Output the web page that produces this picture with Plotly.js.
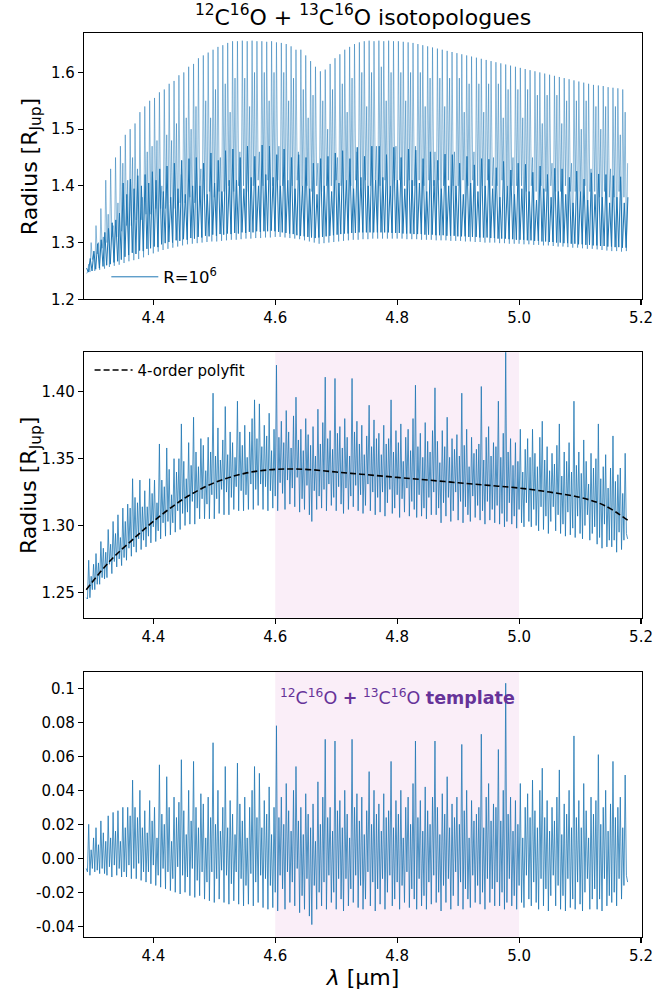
<!DOCTYPE html>
<html>
<head>
<meta charset="utf-8">
<script src="https://cdn.plot.ly/plotly-3.0.1.min.js"></script>
<style>html,body{margin:0;padding:0;background:#fff;}#chart{width:653px;height:990px;}</style>
</head>
<body>
<div id="chart"></div>
<script>
// Wavelength grid of the sampled spectra (micron): start and step
const lambdaStart = 4.29;
const lambdaStep = 0.002;
// Grid of the weak-line component of the R=1e6 spectrum
const weakStart = 4.2905;
const weakStep = 0.003;

// Panel 1: R=1e6 transmission spectrum, strong lines (radius in R_Jup)
const topRadius = [
1.246,1.247,1.262,1.248,1.30,1.27,1.28,1.25,1.33,1.28,1.30,1.252,1.36,1.29,1.31,1.254,
1.41,1.30,1.35,1.257,1.43,1.31,1.33,1.259,1.45,1.31,1.37,1.261,1.47,1.32,1.44,1.264,
1.49,1.33,1.41,1.267,1.50,1.33,1.45,1.269,1.51,1.34,1.43,1.271,1.53,1.34,1.38,1.274,
1.54,1.35,1.46,1.278,1.55,1.35,1.47,1.281,1.555,1.36,1.48,1.284,1.565,1.36,1.40,1.287,
1.57,1.36,1.49,1.289,1.58,1.37,1.48,1.291,1.585,1.36,1.51,1.293,1.595,1.37,1.42,1.295,
1.60,1.37,1.52,1.297,1.61,1.38,1.50,1.298,1.615,1.37,1.54,1.299,1.625,1.38,1.43,1.300,
1.63,1.38,1.55,1.301,1.635,1.39,1.52,1.302,1.64,1.38,1.57,1.302,1.645,1.39,1.45,1.303,
1.648,1.39,1.58,1.304,1.652,1.40,1.53,1.305,1.655,1.39,1.59,1.305,1.655,1.40,1.46,1.306,
1.656,1.40,1.59,1.307,1.655,1.39,1.54,1.307,1.656,1.40,1.60,1.308,1.655,1.41,1.46,1.308,
1.655,1.40,1.60,1.309,1.654,1.41,1.55,1.309,1.655,1.40,1.60,1.310,1.653,1.41,1.47,1.310,
1.652,1.40,1.60,1.309,1.65,1.41,1.55,1.308,1.646,1.40,1.59,1.307,1.64,1.41,1.46,1.306,
1.64,1.40,1.57,1.304,1.63,1.40,1.52,1.302,1.62,1.39,1.56,1.300,1.61,1.40,1.44,1.298,
1.602,1.39,1.55,1.299,1.605,1.40,1.50,1.300,1.615,1.40,1.57,1.301,1.625,1.41,1.45,1.302,
1.632,1.40,1.58,1.303,1.64,1.41,1.53,1.304,1.645,1.40,1.59,1.305,1.65,1.41,1.46,1.305,
1.653,1.40,1.60,1.306,1.655,1.41,1.54,1.306,1.656,1.40,1.60,1.307,1.655,1.41,1.47,1.307,
1.656,1.40,1.61,1.307,1.655,1.41,1.55,1.307,1.656,1.40,1.60,1.307,1.655,1.41,1.47,1.307,
1.655,1.41,1.60,1.307,1.654,1.40,1.55,1.306,1.653,1.41,1.60,1.306,1.652,1.40,1.47,1.306,
1.65,1.41,1.60,1.305,1.648,1.40,1.54,1.305,1.646,1.41,1.59,1.305,1.644,1.40,1.46,1.304,
1.642,1.41,1.59,1.304,1.64,1.40,1.54,1.304,1.638,1.41,1.59,1.303,1.636,1.40,1.46,1.303,
1.634,1.40,1.59,1.303,1.632,1.41,1.53,1.302,1.63,1.40,1.58,1.302,1.628,1.41,1.46,1.301,
1.626,1.40,1.58,1.301,1.624,1.40,1.53,1.300,1.622,1.41,1.58,1.300,1.62,1.40,1.45,1.300,
1.618,1.40,1.58,1.299,1.616,1.41,1.52,1.299,1.614,1.40,1.57,1.298,1.612,1.40,1.45,1.298,
1.61,1.40,1.57,1.298,1.608,1.40,1.52,1.297,1.606,1.39,1.57,1.297,1.604,1.40,1.45,1.296,
1.602,1.39,1.56,1.296,1.60,1.40,1.51,1.295,1.598,1.39,1.56,1.295,1.596,1.40,1.44,1.294,
1.594,1.39,1.56,1.293,1.592,1.39,1.51,1.293,1.59,1.40,1.55,1.292,1.588,1.39,1.44,1.291,
1.586,1.39,1.55,1.291,1.584,1.39,1.50,1.290,1.582,1.40,1.55,1.289,1.58,1.39,1.43,1.289,
1.578,1.39,1.54,1.288,1.577,1.38,1.50,1.287,1.576,1.39,1.54,1.286,1.574,1.38,1.43,1.285,
1.573,1.38,1.54,1.285,1.572,1.39,1.49,1.284,1.57,1.38,1.53,1.285,1.44
];

// Panel 1: weak lines (hot band / 13CO) of the same R=1e6 spectrum
const topRadiusWeak = [
1.255,1.248,1.272,1.250,1.285,1.253,1.298,1.255,1.305,1.258,1.318,1.260,1.325,1.262,1.335,1.265,1.340,1.267,1.352,1.270,
1.405,1.275,1.385,1.278,1.412,1.282,1.395,1.280,1.418,1.286,1.40,1.285,1.42,1.289,1.405,1.290,1.425,1.293,1.41,1.292,
1.43,1.297,1.39,1.299,1.435,1.301,1.38,1.300,1.44,1.304,1.395,1.303,1.445,1.306,1.385,1.305,1.448,1.308,1.40,1.307,
1.45,1.310,1.40,1.309,1.44,1.312,1.385,1.311,1.458,1.314,1.405,1.312,1.445,1.315,1.39,1.314,1.462,1.316,1.41,1.315,
1.465,1.317,1.41,1.316,1.45,1.318,1.395,1.317,1.47,1.319,1.415,1.318,1.452,1.320,1.40,1.319,1.472,1.320,1.42,1.320,
1.47,1.321,1.415,1.320,1.455,1.319,1.40,1.318,1.465,1.317,1.41,1.316,1.45,1.315,1.395,1.313,1.455,1.312,1.40,1.311,
1.45,1.310,1.395,1.309,1.44,1.308,1.385,1.309,1.448,1.310,1.40,1.311,1.452,1.312,1.39,1.313,1.458,1.314,1.405,1.315,
1.462,1.316,1.41,1.316,1.448,1.317,1.395,1.317,1.468,1.318,1.415,1.318,1.452,1.318,1.40,1.318,1.47,1.318,1.41,1.318,
1.47,1.318,1.415,1.318,1.455,1.318,1.40,1.317,1.468,1.317,1.41,1.317,1.45,1.316,1.395,1.316,1.465,1.316,1.41,1.315,
1.463,1.315,1.405,1.315,1.448,1.314,1.39,1.314,1.46,1.314,1.41,1.313,1.445,1.313,1.395,1.313,1.456,1.312,1.40,1.312,
1.455,1.312,1.40,1.311,1.44,1.311,1.385,1.311,1.452,1.310,1.405,1.310,1.437,1.310,1.39,1.309,1.448,1.309,1.40,1.309,
1.447,1.308,1.395,1.308,1.432,1.307,1.38,1.307,1.443,1.307,1.40,1.306,1.428,1.306,1.385,1.305,1.44,1.305,1.395,1.305,
1.438,1.304,1.39,1.304,1.424,1.303,1.375,1.303,1.435,1.302,1.395,1.302,1.42,1.301,1.38,1.301,1.431,1.300,1.39,1.300,
1.43,1.299,1.385,1.299,1.415,1.298,1.37,1.298,1.426,1.297,1.39,1.297,1.412,1.296,1.375,1.296,1.423,1.295,1.385,1.295,
1.421,1.294,1.38,1.294,1.42,1.293,1.37,1.293,1.418,1.292,1.38,1.292,1.416,1.291,1.37,1.291,1.38
];

// Panel 2: lower-resolution spectrum (radius in R_Jup)
const midRadius = [
1.246,1.245,1.274,1.246,1.262,1.252,1.271,1.252,1.279,1.256,1.272,1.256,1.288,1.261,1.283,1.260,
1.280,1.261,1.297,1.271,1.286,1.264,1.303,1.273,1.294,1.269,1.308,1.275,1.291,1.270,1.313,1.276,
1.303,1.274,1.316,1.283,1.313,1.277,1.335,1.284,1.321,1.280,1.317,1.290,1.334,1.282,1.314,1.289,
1.326,1.284,1.314,1.292,1.335,1.287,1.324,1.299,1.334,1.288,1.317,1.296,1.361,1.290,1.334,1.302,
1.329,1.292,1.358,1.303,1.342,1.293,1.323,1.302,1.350,1.295,1.340,1.311,1.350,1.297,1.376,1.309,
1.348,1.300,1.335,1.310,1.362,1.301,1.345,1.318,1.381,1.301,1.355,1.313,1.344,1.305,1.365,1.320,
1.360,1.305,1.341,1.316,1.366,1.305,1.355,1.323,1.399,1.305,1.352,1.320,1.373,1.309,1.349,1.327,
1.364,1.308,1.389,1.325,1.353,1.308,1.370,1.321,1.362,1.312,1.351,1.329,1.393,1.311,1.370,1.326,
1.360,1.311,1.375,1.323,1.351,1.312,1.370,1.331,1.380,1.312,1.394,1.327,1.365,1.315,1.391,1.331,
1.359,1.312,1.375,1.329,1.367,1.311,1.384,1.326,1.356,1.313,1.372,1.322,1.420,1.311,1.366,1.332,
1.378,1.324,1.362,1.312,1.386,1.334,1.370,1.316,1.358,1.328,1.382,1.314,1.396,1.336,1.364,1.310,
1.372,1.320,1.356,1.312,1.380,1.330,1.368,1.308,1.360,1.303,1.374,1.326,1.352,1.312,1.387,1.322,
1.361,1.313,1.377,1.327,1.411,1.311,1.365,1.331,1.371,1.315,1.357,1.321,1.410,1.311,1.369,1.329,
1.374,1.316,1.358,1.309,1.380,1.328,1.366,1.312,1.352,1.322,1.410,1.314,1.370,1.330,1.378,1.311,
1.361,1.323,1.375,1.309,1.353,1.315,1.367,1.331,1.390,1.311,1.359,1.325,1.379,1.308,1.365,1.321,
1.369,1.310,1.353,1.325,1.375,1.307,1.361,1.317,1.365,1.327,1.394,1.309,1.355,1.313,1.371,1.323,
1.362,1.306,1.376,1.320,1.348,1.310,1.366,1.328,1.372,1.307,1.356,1.318,1.380,1.312,1.405,1.306,
1.359,1.323,1.369,1.307,1.351,1.313,1.377,1.305,1.363,1.321,1.355,1.308,1.371,1.325,1.403,1.308,
1.363,1.313,1.347,1.302,1.371,1.317,1.359,1.307,1.381,1.321,1.351,1.303,1.365,1.311,1.357,1.325,
1.368,1.304,1.352,1.318,1.399,1.302,1.360,1.314,1.372,1.308,1.344,1.303,1.366,1.322,1.354,1.306,
1.357,1.315,1.361,1.304,1.404,1.311,1.349,1.301,1.366,1.318,1.374,1.304,1.352,1.312,1.362,1.302,
1.359,1.315,1.393,1.301,1.351,1.309,1.369,1.299,1.432,1.303,1.355,1.317,1.365,1.301,1.345,1.307,
1.362,1.298,1.348,1.312,1.372,1.302,1.340,1.299,1.357,1.317,1.365,1.303,1.351,1.299,1.372,1.312,
1.354,1.300,1.344,1.296,1.366,1.314,1.378,1.297,1.349,1.307,1.359,1.294,1.341,1.303,1.354,1.314,
1.346,1.296,1.360,1.308,1.376,1.294,1.337,1.301,1.355,1.292,1.348,1.310,1.362,1.293,1.340,1.298,
1.393,1.291,1.345,1.307,1.355,1.294,1.339,1.290,1.364,1.300,1.348,1.308,1.331,1.289,1.354,1.294,
1.343,1.299,1.350,1.286,1.376,1.291,1.335,1.283,1.344,1.301,1.353,1.284,1.328,1.289,1.343,1.284,
1.367,1.289,1.333,1.280,1.338,1.295,1.343,1.282,1.324,1.289,1.354,1.294,1.290
];

// Panel 2: 4th-order polynomial fit
const fitLambda = [4.29,4.33,4.37,4.40,4.45,4.50,4.55,4.60,4.65,4.70,4.75,4.80,4.85,4.90,4.95,5.00,5.05,5.10,5.14,5.178];
const fitRadius = [1.252,1.274,1.291,1.303,1.320,1.332,1.339,1.342,1.342,1.340,1.338,1.336,1.334,1.332,1.330,1.328,1.325,1.321,1.315,1.304];

// Panel 3: template = spectrum minus polyfit
const template = [
-0.006,-0.008,0.020,-0.010,0.005,-0.006,0.012,-0.008,0.018,-0.007,0.008,-0.009,0.022,-0.006,0.015,-0.009,
0.010,-0.010,0.025,-0.005,0.012,-0.011,0.027,-0.004,0.016,-0.010,0.028,-0.006,0.010,-0.011,0.030,-0.008,
0.018,-0.011,0.030,-0.004,0.025,-0.012,0.046,-0.006,0.030,-0.012,0.024,-0.003,0.040,-0.013,0.018,-0.008,
0.028,-0.014,0.015,-0.008,0.034,-0.015,0.022,-0.004,0.030,-0.016,0.012,-0.010,0.055,-0.017,0.026,-0.006,
0.020,-0.018,0.048,-0.008,0.030,-0.019,0.010,-0.012,0.036,-0.020,0.024,-0.005,0.033,-0.021,0.058,-0.010,
0.028,-0.020,0.014,-0.011,0.040,-0.022,0.022,-0.006,0.057,-0.023,0.030,-0.013,0.018,-0.022,0.038,-0.008,
0.032,-0.024,0.012,-0.014,0.036,-0.025,0.024,-0.008,0.068,-0.026,0.020,-0.012,0.040,-0.024,0.016,-0.007,
0.030,-0.026,0.054,-0.010,0.018,-0.027,0.034,-0.015,0.026,-0.025,0.014,-0.008,0.056,-0.027,0.032,-0.012,
0.022,-0.028,0.036,-0.016,0.012,-0.027,0.030,-0.009,0.040,-0.028,0.054,-0.014,0.024,-0.026,0.050,-0.010,
0.018,-0.029,0.034,-0.012,0.026,-0.030,0.042,-0.016,0.014,-0.029,0.030,-0.020,0.078,-0.031,0.024,-0.010,
0.036,-0.018,0.020,-0.030,0.044,-0.008,0.028,-0.026,0.016,-0.014,0.040,-0.028,0.054,-0.006,0.022,-0.032,
0.030,-0.022,0.014,-0.030,0.038,-0.012,0.026,-0.034,0.018,-0.039,0.032,-0.016,0.010,-0.030,0.045,-0.020,
0.020,-0.028,0.036,-0.014,0.070,-0.030,0.024,-0.010,0.030,-0.026,0.016,-0.020,0.069,-0.030,0.028,-0.012,
0.034,-0.024,0.018,-0.031,0.040,-0.012,0.026,-0.028,0.012,-0.018,0.070,-0.026,0.030,-0.010,0.038,-0.029,
0.022,-0.016,0.036,-0.030,0.014,-0.024,0.028,-0.008,0.051,-0.028,0.020,-0.014,0.040,-0.031,0.026,-0.018,
0.032,-0.027,0.016,-0.012,0.038,-0.030,0.024,-0.020,0.028,-0.010,0.057,-0.028,0.018,-0.024,0.034,-0.014,
0.026,-0.030,0.040,-0.016,0.012,-0.026,0.030,-0.008,0.036,-0.029,0.020,-0.018,0.044,-0.024,0.069,-0.030,
0.024,-0.012,0.034,-0.028,0.016,-0.022,0.042,-0.030,0.028,-0.014,0.020,-0.027,0.036,-0.010,0.069,-0.026,
0.030,-0.020,0.014,-0.031,0.038,-0.016,0.026,-0.026,0.048,-0.012,0.018,-0.030,0.032,-0.022,0.024,-0.008,
0.036,-0.028,0.020,-0.014,0.067,-0.030,0.028,-0.018,0.040,-0.024,0.012,-0.029,0.034,-0.010,0.022,-0.026,
0.026,-0.016,0.030,-0.027,0.073,-0.020,0.018,-0.030,0.036,-0.012,0.044,-0.026,0.022,-0.018,0.032,-0.028,
0.030,-0.014,0.064,-0.028,0.022,-0.020,0.040,-0.030,0.103,-0.026,0.026,-0.012,0.036,-0.028,0.016,-0.022,
0.034,-0.030,0.020,-0.016,0.044,-0.026,0.012,-0.029,0.030,-0.010,0.038,-0.024,0.024,-0.028,0.046,-0.014,
0.028,-0.026,0.018,-0.030,0.040,-0.012,0.053,-0.028,0.024,-0.018,0.034,-0.031,0.016,-0.022,0.030,-0.010,
0.022,-0.028,0.036,-0.016,0.052,-0.030,0.014,-0.022,0.032,-0.031,0.026,-0.012,0.040,-0.029,0.018,-0.024,
0.072,-0.030,0.024,-0.014,0.034,-0.027,0.018,-0.031,0.044,-0.020,0.028,-0.012,0.012,-0.030,0.036,-0.024,
0.026,-0.018,0.034,-0.030,0.061,-0.024,0.020,-0.031,0.030,-0.012,0.040,-0.028,0.016,-0.022,0.032,-0.026,
0.057,-0.020,0.024,-0.028,0.030,-0.012,0.036,-0.024,0.018,-0.016,0.049,-0.010,-0.014
];

// Highlighted template window (micron)
const windowRange = [4.6, 5.0];

// Tick values and labels
const xTickVals = [4.4, 4.6, 4.8, 5.0, 5.2];
const xTickText = ['4.4', '4.6', '4.8', '5.0', '5.2'];
const y1TickVals = [1.2, 1.3, 1.4, 1.5, 1.6];
const y1TickText = ['1.2', '1.3', '1.4', '1.5', '1.6'];
const y2TickVals = [1.25, 1.30, 1.35, 1.40];
const y2TickText = ['1.25', '1.30', '1.35', '1.40'];
const y3TickVals = [-0.04, -0.02, 0.0, 0.02, 0.04, 0.06, 0.08, 0.1];
const y3TickText = ['-0.04', '-0.02', '0.00', '0.02', '0.04', '0.06', '0.08', '0.1'];

const FONT = 'DejaVu Sans, Liberation Sans, sans-serif';
const BLUE = '#1f77b4';

const traces = [
  {type: 'scatter', mode: 'lines', y: topRadiusWeak, x0: weakStart, dx: weakStep,
   xaxis: 'x', yaxis: 'y', line: {color: BLUE, width: 1.0},
   name: 'R=10<sup>6</sup>', legend: 'legend', legendgroup: 'r6', hoverinfo: 'skip'},
  {type: 'scatter', mode: 'lines', y: topRadius, x0: lambdaStart, dx: lambdaStep,
   xaxis: 'x', yaxis: 'y', line: {color: BLUE, width: 0.5},
   name: 'R=10<sup>6</sup>', legendgroup: 'r6', showlegend: false, hoverinfo: 'skip'},
  {type: 'scatter', mode: 'lines', y: midRadius, x0: lambdaStart, dx: lambdaStep,
   xaxis: 'x2', yaxis: 'y2', line: {color: BLUE, width: 0.8}, showlegend: false, hoverinfo: 'skip'},
  {type: 'scatter', mode: 'lines', x: fitLambda, y: fitRadius,
   xaxis: 'x2', yaxis: 'y2', line: {color: 'black', width: 1.6, dash: '6px,3px', shape: 'spline'},
   name: '4-order polyfit', legend: 'legend2', hoverinfo: 'skip'},
  {type: 'scatter', mode: 'lines', y: template, x0: lambdaStart, dx: lambdaStep,
   xaxis: 'x3', yaxis: 'y3', line: {color: BLUE, width: 0.8}, showlegend: false, hoverinfo: 'skip'}
];

function xAxis(anchor, withTitle) {
  const a = {
    anchor: anchor, range: [4.2863, 5.2016], tickmode: 'array', tickvals: xTickVals, ticktext: xTickText,
    ticks: 'outside', ticklen: 5, tickwidth: 1.1, tickcolor: 'black',
    showline: true, mirror: true, linecolor: 'black', linewidth: 1.1,
    showgrid: false, zeroline: false, tickfont: {family: FONT, size: 15, color: 'black'}
  };
  if (withTitle) a.title = {text: '<i>λ</i> [µm]', font: {family: FONT, size: 22, color: 'black'}, standoff: 4};
  return a;
}
function yAxis(anchor, domain, range, tv, tt) {
  return {
    anchor: anchor, domain: domain, range: range, tickmode: 'array', tickvals: tv, ticktext: tt,
    ticks: 'outside', ticklen: 5, tickwidth: 1.1, tickcolor: 'black',
    showline: true, mirror: true, linecolor: 'black', linewidth: 1.1,
    showgrid: false, zeroline: false, tickfont: {family: FONT, size: 15, color: 'black'}
  };
}

const yTitleText = 'Radius [R<sub>Jup</sub>]';

const layout = {
  width: 653, height: 990,
  margin: {l: 84, r: 11, t: 33, b: 53},
  paper_bgcolor: 'white', plot_bgcolor: 'white',
  font: {family: FONT, color: 'black'},
  title: {text: '<sup>12</sup>C<sup>16</sup>O + <sup>13</sup>C<sup>16</sup>O isotopologues',
          font: {family: FONT, size: 22, color: 'black'},
          x: 0.5, xref: 'paper', xanchor: 'center', y: 0.983, yref: 'container', yanchor: 'middle'},
  xaxis: xAxis('y', false),
  xaxis2: xAxis('y2', false),
  xaxis3: xAxis('y3', true),
  yaxis: yAxis('x', [0.7054, 1.0], [1.2, 1.6695], y1TickVals, y1TickText),
  yaxis2: yAxis('x2', [0.3532, 0.6468], [1.231, 1.4296], y2TickVals, y2TickText),
  yaxis3: yAxis('x3', [0.0, 0.2935], [-0.0463, 0.1098], y3TickVals, y3TickText),
  showlegend: true,
  legend: {x: 0.04, xanchor: 'left', y: 0.730, yanchor: 'middle', bgcolor: 'rgba(0,0,0,0)',
           font: {family: FONT, size: 16.5, color: 'black'}, itemwidth: 47},
  legend2: {x: 0.01, xanchor: 'left', y: 0.627, yanchor: 'middle', bgcolor: 'rgba(0,0,0,0)',
            font: {family: FONT, size: 15, color: 'black'}, itemwidth: 38},
  shapes: [
    {type: 'rect', xref: 'x2', yref: 'y2 domain', x0: windowRange[0], x1: windowRange[1], y0: 0, y1: 1,
     fillcolor: '#faeef8', line: {width: 0}, layer: 'below'},
    {type: 'rect', xref: 'x3', yref: 'y3 domain', x0: windowRange[0], x1: windowRange[1], y0: 0, y1: 1,
     fillcolor: '#faeef8', line: {width: 0}, layer: 'below'}
  ],
  annotations: [
    {xref: 'paper', yref: 'y domain', x: -0.095, y: 0.5, xanchor: 'center', yanchor: 'middle',
     textangle: -90, showarrow: false, text: yTitleText, font: {family: FONT, size: 22, color: 'black'}},
    {xref: 'paper', yref: 'y2 domain', x: -0.095, y: 0.5, xanchor: 'center', yanchor: 'middle',
     textangle: -90, showarrow: false, text: yTitleText, font: {family: FONT, size: 22, color: 'black'}},
    {xref: 'x3', yref: 'y3', x: 4.8, y: 0.0948, xanchor: 'center', yanchor: 'middle', showarrow: false,
     text: '<sup>12</sup>C<sup>16</sup>O <b>+</b> <sup>13</sup>C<sup>16</sup>O <b>template</b>',
     font: {family: FONT, size: 17.5, color: '#663399'}}
  ]
};

Plotly.newPlot('chart', traces, layout, {staticPlot: true, displayModeBar: false});
</script>
</body>
</html>
